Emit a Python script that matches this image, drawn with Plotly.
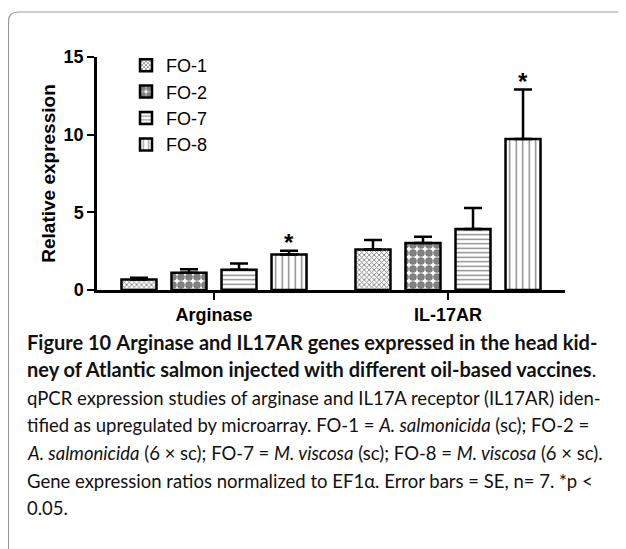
import plotly.graph_objects as go

# ---------------- data ----------------
genes = ["Arginase", "IL-17AR"]
series_names = ["FO-1", "FO-2", "FO-7", "FO-8"]
fo1_mean = [0.68, 2.61]
fo1_se = [0.11, 0.61]
fo2_mean = [1.11, 3.03]
fo2_se = [0.22, 0.40]
fo7_mean = [1.31, 3.93]
fo7_se = [0.40, 1.35]
fo8_mean = [2.29, 9.72]
fo8_se = [0.24, 3.18]
significant_fo8 = [True, True]
y_ticks = [0, 5, 10, 15]

means = [fo1_mean, fo2_mean, fo7_mean, fo8_mean]
ses = [fo1_se, fo2_se, fo7_se, fo8_se]
patterns = [
    dict(shape="x", size=3.5, solidity=0.45),
    dict(shape=".", size=8, solidity=0.72),
    dict(shape="-", size=4.5, solidity=0.28),
    dict(shape="|", size=6.5, solidity=0.2),
]

# ---------------- geometry ----------------
OFF = 8  # page body margin
W, H = 626 - OFF, 549 - OFF
# plot area in reference page pixels: x 97..565, y 57..290
L = 97 - OFF
T = 57 - OFF
R = W - (565 - OFF)
B = H - (290 - OFF)
PW = W - L - R
PH = H - T - B
BARGAP = 0.145


def px2x(px):
    return (px - OFF - L) / PW


def px2y(py):
    return (H - B - (py - OFF)) / PH


fig = go.Figure()
for name, m, e, p in zip(series_names, means, ses, patterns):
    fig.add_trace(go.Bar(
        name=name, x=genes, y=m, legendgroup=name,
        marker=dict(color="white", line=dict(color="black", width=2.5),
                    pattern=dict(fgcolor="black", bgcolor="white", fillmode="overlay", **p)),
        error_y=dict(type="data", array=e, arrayminus=[0] * len(e), symmetric=False,
                     color="black", thickness=2.5, width=9),
    ))

# significance asterisks above FO-8 error bars
cat_px = PW / len(genes)
slot_px = cat_px * (1 - BARGAP) / len(series_names)
shift_fo8 = slot_px * 1.5
for g, m, e, s in zip(genes, fo8_mean, fo8_se, significant_fo8):
    if s:
        fig.add_annotation(x=g, y=m + e, xref="x", yref="y", text="<b>*</b>",
                           showarrow=False, xshift=shift_fo8, yanchor="bottom", yshift=-7,
                           font=dict(family="Liberation Sans", size=24, color="black"))

# caption
cap_font = "Lato"
lines = [
    "<b>Figure 10</b> <b>Arginase and IL17AR genes expressed in the head kid-</b>",
    "<b>ney of Atlantic salmon injected with different oil-based vaccines</b>.",
    "qPCR expression studies of arginase and IL17A receptor (IL17AR) iden-",
    "tified as upregulated by microarray. FO-1 = <i>A. salmonicida</i> (sc); FO-2 =",
    "<i>A. salmonicida</i> (6 × sc); FO-7 = <i>M. viscosa</i> (sc); FO-8 = <i>M. viscosa</i> (6 × sc).",
    "Gene expression ratios normalized to EF1α. Error bars = SE, n= 7. *p <",
    "0.05.",
]
line_y = [342, 369, 398, 425, 453, 481, 508]
for i, (t, yy) in enumerate(zip(lines, line_y)):
    fig.add_annotation(x=px2x(25), y=px2y(yy), xref="paper", yref="paper", text=t,
                       showarrow=False, xanchor="left", yanchor="middle",
                       font=dict(family=cap_font, size=20 if i < 2 else 18.5, color="#111111"))

# rounded frame
x0 = px2x(8.5)
y0 = px2y(12)
rx = 10 / PW
ry = 10 / PH
fig.add_shape(type="path", xref="paper", yref="paper",
              path=f"M {x0},{px2y(560)} L {x0},{y0 - ry} Q {x0},{y0} {x0 + rx},{y0} L {px2x(640)},{y0}",
              line=dict(color="#9a9a9a", width=1.2))

fig.update_layout(
    width=W, height=H,
    margin=dict(l=L, r=R, t=T, b=B, pad=0),
    paper_bgcolor="white", plot_bgcolor="white",
    barmode="group", bargap=BARGAP, bargroupgap=0.3,
    showlegend=True,
    legend=dict(x=px2x(126), y=px2y(47), xanchor="left", yanchor="top",
                font=dict(family="Liberation Sans", size=18, color="black"),
                bgcolor="rgba(0,0,0,0)", tracegroupgap=3, traceorder="normal"),
    font=dict(family="Liberation Sans", color="black"),
)
fig.update_xaxes(range=[-0.5, 1.5], showline=True, linecolor="black", linewidth=2.5,
                 ticks="outside", ticklen=7, tickwidth=2, tickcolor="black",
                 tickfont=dict(family="Liberation Sans", size=18, weight=700),
                 showgrid=False, zeroline=False, fixedrange=True)
fig.update_yaxes(range=[0, 15], tickvals=y_ticks, showline=True, linecolor="black", linewidth=2.5,
                 ticks="outside", ticklen=7, tickwidth=2, tickcolor="black",
                 tickfont=dict(family="Liberation Sans", size=18, weight=700),
                 title=dict(text="Relative expression", standoff=3,
                            font=dict(family="Liberation Sans", size=19, weight=700)),
                 showgrid=False, zeroline=False, fixedrange=True)

fig.write_html("out.html")
